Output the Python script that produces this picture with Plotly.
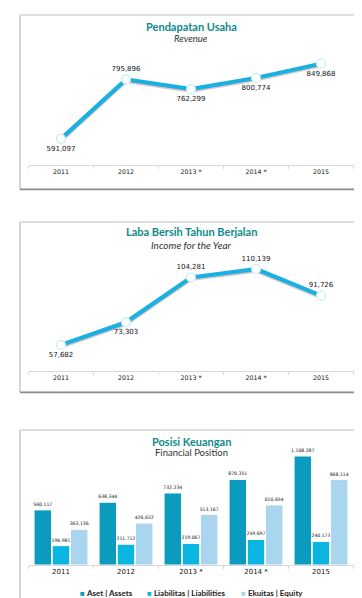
import plotly.graph_objects as go

# ---- data ----
years = ["2011", "2012", "2013 *", "2014 *", "2015"]
revenue = [591097, 795896, 762299, 800774, 849868]
net_income = [57682, 73303, 104281, 110139, 91726]
assets = [560117, 638344, 732234, 870351, 1108287]
liabilities = [196981, 211712, 219067, 259697, 240173]
equity = [363136, 426632, 513167, 610654, 868114]
series_names = ["Aset | Assets", "Liabilitas | Liabilities", "Ekuitas | Equity"]

rev_pos = ["bottom center", "top center", "bottom center", "bottom center", "bottom center"]
inc_pos = ["bottom center", "bottom center", "top center", "top center", "top center"]

W, H = 362, 598
def fx(x): return x / W
def fy(y): return 1 - y / H

FONT = "Lato, 'Open Sans', sans-serif"
LFONT = "'DejaVu Sans', sans-serif"
TEAL = "#0f8a8c"
LINE = "#1ab1e2"
C_ASSET = "#0b9bbf"
C_LIAB = "#0ab5e2"
C_EQ = "#a9d5ee"

def fmt(v):
    return f"{v:,}"

fig = go.Figure()

# line panels: (values, label positions, axes, y-range, pixel height)
panels = [(revenue, rev_pos, "x", "y", [501000, 904000], 117),
          (net_income, inc_pos, "x2", "y2", [39700, 121200], 118)]
for (vals, pos, xa, ya, rng, hpx) in panels:
    per_px = (rng[1] - rng[0]) / hpx
    fig.add_trace(go.Scatter(
        x=years, y=[v - 1.6 * per_px for v in vals], mode="lines",
        line=dict(color="rgba(150,100,95,0.35)", width=4),
        hoverinfo="skip", showlegend=False, xaxis=xa, yaxis=ya))
    fig.add_trace(go.Scatter(
        x=years, y=vals, mode="lines+markers+text",
        text=[fmt(v) for v in vals], textposition=pos,
        textfont=dict(size=7, color="#111", family=LFONT),
        line=dict(color=LINE, width=4.2),
        marker=dict(size=9, color="white", line=dict(color="#c4ecf7", width=1.2)),
        cliponaxis=False, showlegend=False, xaxis=xa, yaxis=ya))

# bar panel
bar_cols = [C_ASSET, C_LIAB, C_EQ]
for name, vals, col in zip(series_names, [assets, liabilities, equity], bar_cols):
    fig.add_trace(go.Bar(
        x=years, y=vals, name=name, marker=dict(color=col, line=dict(color="white", width=1)),
        text=[fmt(v) for v in vals], textposition="outside",
        textfont=dict(size=4.6, color="#111", family=LFONT),
        constraintext="none", cliponaxis=False, showlegend=False,
        xaxis="x3", yaxis="y3"))

xcommon = dict(type="category", showgrid=False, zeroline=False, showline=True,
               linecolor="#d9d9d9", linewidth=1, ticks="outside", tickson="boundaries",
               ticklen=3, tickcolor="#d9d9d9", range=[-0.5, 4.5],
               tickfont=dict(size=6.3, color="#111", family=LFONT), fixedrange=True)
ycommon = dict(visible=False, showgrid=False, zeroline=False, fixedrange=True)
XDOM = [fx(20.5), fx(345.5)]

fig.update_layout(
    width=W, height=H, margin=dict(l=0, r=0, t=0, b=0),
    paper_bgcolor="white", plot_bgcolor="rgba(0,0,0,0)",
    font=dict(family=FONT), showlegend=False,
    barmode="group", bargap=0.16, bargroupgap=0.04,
    xaxis=dict(xcommon, domain=XDOM, anchor="y"),
    yaxis=dict(ycommon, domain=[fy(157), fy(40)], range=[501000, 904000], anchor="x"),
    xaxis2=dict(xcommon, domain=XDOM, anchor="y2"),
    yaxis2=dict(ycommon, domain=[fy(363), fy(245)], range=[39700, 121200], anchor="x2"),
    xaxis3=dict(xcommon, domain=XDOM, anchor="y3",
                tickfont=dict(size=7, color="#111", family=LFONT)),
    yaxis3=dict(ycommon, domain=[fy(557), fy(440)], range=[0, 1189600], anchor="x3"),
)

# panel boxes
shapes = []
for top, bot in [(7, 181), (214, 384), (422, 593)]:
    shapes.append(dict(type="rect", xref="paper", yref="paper", layer="below",
                       x0=fx(12), x1=fx(353), y0=fy(bot), y1=fy(top),
                       line=dict(color="#a8a8a8", width=1), fillcolor="white"))
    shapes.append(dict(type="line", xref="paper", yref="paper",
                       x0=fx(12), x1=fx(353), y0=fy(top), y1=fy(top),
                       line=dict(color="#dedede", width=2)))
    shapes.append(dict(type="line", xref="paper", yref="paper",
                       x0=fx(353.5), x1=fx(353.5), y0=fy(bot + 1), y1=fy(top),
                       line=dict(color="#8c8c8c", width=2)))
    shapes.append(dict(type="line", xref="paper", yref="paper",
                       x0=fx(12), x1=fx(354), y0=fy(bot + 0.5), y1=fy(bot + 0.5),
                       line=dict(color="#8c8c8c", width=1.5)))
fig.update_layout(shapes=shapes)

annos = []
for (t, s, ty, sy, ital, ssz) in [("Pendapatan Usaha", "Revenue", 19, 31, True, 9.5),
                                  ("Laba Bersih Tahun Berjalan", "Income for the Year", 224, 237, True, 10),
                                  ("Posisi Keuangan", "Financial Position", 433, 445, False, 9.5)]:
    annos.append(dict(text=f"<b>{t}</b>", x=fx(183), y=fy(ty), xref="paper", yref="paper",
                      showarrow=False, xanchor="center", yanchor="middle",
                      font=dict(size=11, color=TEAL, family=FONT)))
    annos.append(dict(text=(f"<i>{s}</i>" if ital else s), x=fx(183), y=fy(sy), xref="paper", yref="paper",
                      showarrow=False, xanchor="center", yanchor="middle",
                      font=dict(size=ssz, color="#333", family=FONT)))

# custom compact legend (real text)
for name, col, lx in zip(series_names, bar_cols, [70, 137, 231]):
    annos.append(dict(text=f"<span style='color:{col}'>■</span> <b>{name}</b>",
                      x=fx(lx), y=fy(585), xref="paper", yref="paper",
                      showarrow=False, xanchor="left", yanchor="middle",
                      font=dict(size=8, color="#222", family=FONT)))
fig.update_layout(annotations=annos)

fig.write_html("out.html")
